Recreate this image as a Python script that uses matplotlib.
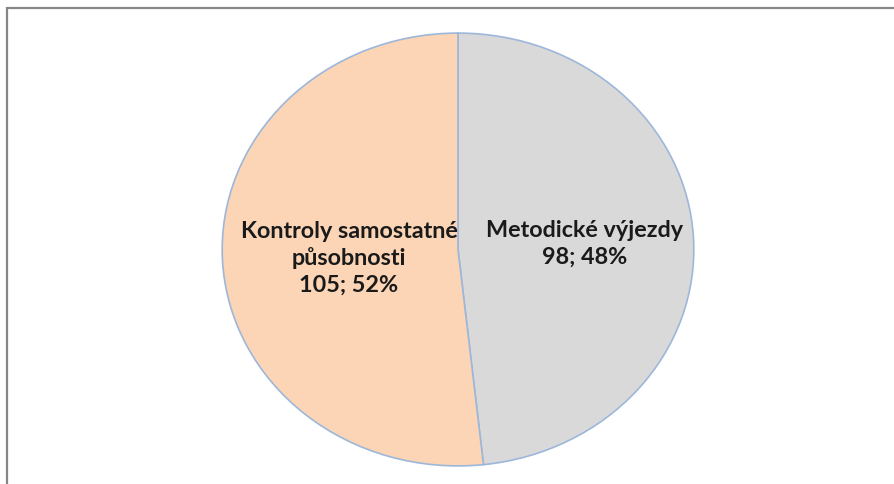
import matplotlib.pyplot as plt
from matplotlib.patches import Rectangle

# slice data (clockwise from 12 o'clock)
categories = ['Metodické výjezdy', 'Kontroly samostatné\npůsobnosti']
values = [98, 105]
percents = [48, 52]
colors = ['#D9D9D9', '#FBD5B5']

W, H = 894, 484
fig = plt.figure(figsize=(W / 100, H / 100), dpi=100)

# pie box in pixels: x 221..695, y 32..467
ax = fig.add_axes([221 / W, (H - 467) / H, 474 / W, 435 / H])
wedges, _ = ax.pie(values, colors=colors, startangle=90, counterclock=False,
                   wedgeprops=dict(edgecolor='#9DB7DA', linewidth=1.2))
ax.set_aspect('auto')
ax.set_xlim(-1.005, 1.005)
ax.set_ylim(-1.005, 1.005)

font = dict(family=['Lato', 'DejaVu Sans'], fontsize=16.8, fontweight='bold',
            color='#1a1a1a', ha='center', va='center', linespacing=1.32)

ax.text(0.538, 0.025, f'{categories[0]}\n{values[0]}; {percents[0]}%', **font)
ax.text(-0.462, -0.04, f'{categories[1]}\n{values[1]}; {percents[1]}%', **font)

# outer chart frame
fig.patches.append(Rectangle((7 / W, -0.1), 1.2, 1 - 8 / H + 0.1,
                             transform=fig.transFigure, fill=False,
                             edgecolor='#878787', linewidth=1.6))

fig.savefig('out.png', dpi=100)
